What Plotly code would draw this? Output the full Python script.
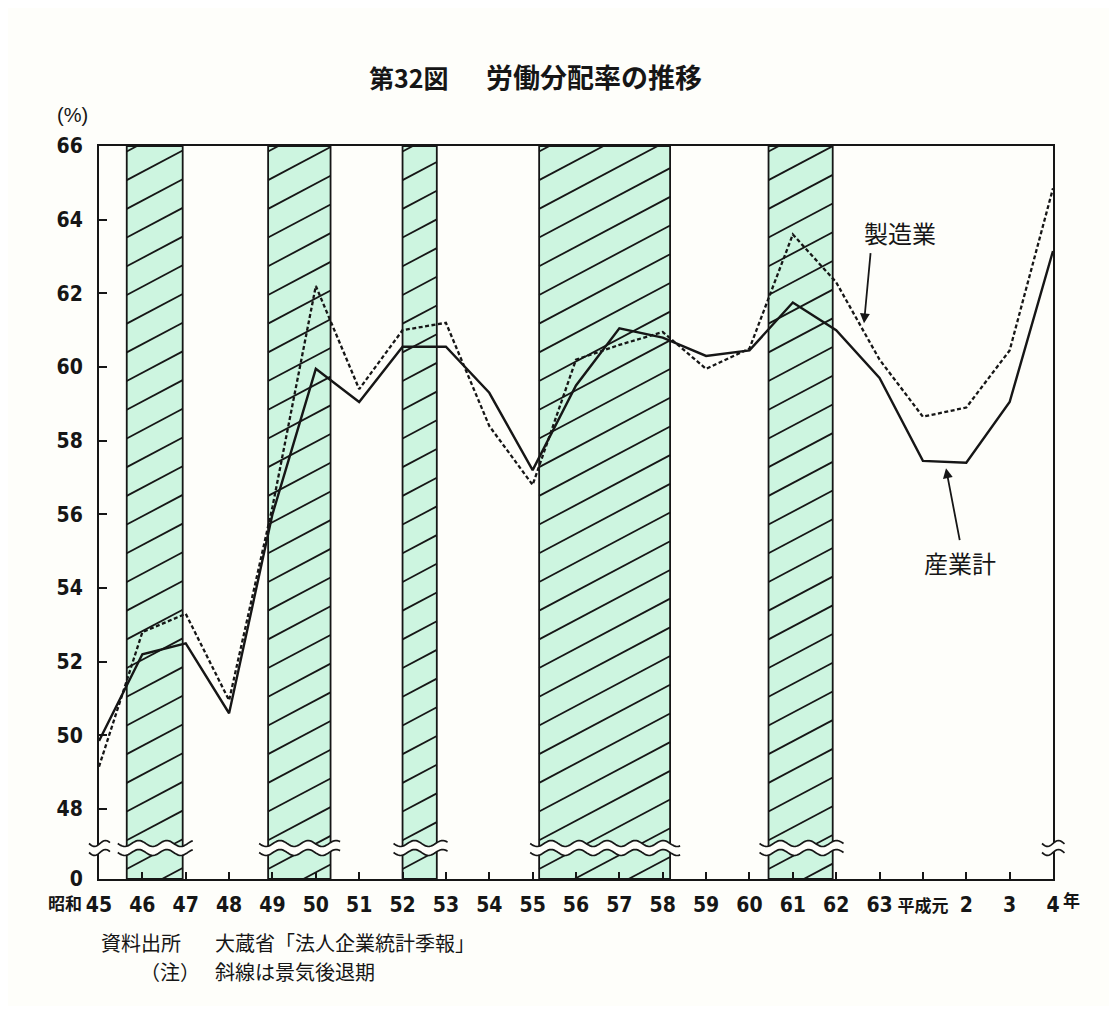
import numpy as np
import plotly.graph_objects as go

# ---------------- data ----------------
years = list(range(45, 68))  # 昭和45 ... 昭和63, 平成元(=64) ... 平成4(=67)
year_labels = ["45", "46", "47", "48", "49", "50", "51", "52", "53", "54", "55",
               "56", "57", "58", "59", "60", "61", "62", "63",
               "<span style='font-size:17px'>平成元</span>", "2", "3", "4"]
industry_total = [49.85, 52.2, 52.5, 50.6, 56.0, 59.95, 59.05, 60.55, 60.55, 59.3, 57.2,
                  59.5, 61.05, 60.8, 60.3, 60.45, 61.75, 61.0, 59.7, 57.45, 57.4, 59.05, 63.15]
manufacturing = [49.15, 52.8, 53.3, 50.95, 56.2, 62.2, 59.4, 61.0, 61.2, 58.4, 56.8,
                 60.2, 60.6, 60.95, 59.95, 60.5, 63.6, 62.3, 60.2, 58.65, 58.9, 60.45, 64.85]
recession_start = [45.64, 48.90, 52.00, 55.15, 60.44]
recession_end = [46.93, 50.34, 52.79, 58.17, 61.92]
y_tick_pos = [46.1, 48, 50, 52, 54, 56, 58, 60, 62, 64, 66]
y_tick_labels = ["0", "48", "50", "52", "54", "56", "58", "60", "62", "64", "66"]

# ---------------- geometry ----------------
OFF = 8                      # browser body margin
FIG_W, FIG_H = 1117 - 2 * OFF, 1014 - 2 * OFF
L, R, T, B = 99, 1053, 146, 879  # plot area in page pixels
X_MIN, X_MAX = 45, 67
Y_MIN, Y_MAX = 46.1, 66
XPX = (R - L) / (X_MAX - X_MIN)
YPX = (B - T) / (Y_MAX - Y_MIN)

BG = "#fefefa"
MINT = "#cdf5e0"
INK = "#161616"


def pxp(x):  # page pixel -> paper x
    return (x - L) / (R - L)


def pyp(y):  # page pixel -> paper y
    return (B - y) / (B - T)


def dx2px(x):  # data x -> page pixel (for decoration placement)
    return L + (x - X_MIN) * XPX


def d2(xp, yp):  # page pixel -> data
    return X_MIN + (xp - L) / XPX, Y_MAX - (yp - T) / YPX


fig = go.Figure()

shapes = []
# recession bands
for xs, xe in zip(recession_start, recession_end):
    shapes.append(dict(type="rect", xref="x", yref="paper", x0=xs, x1=xe, y0=0, y1=1,
                       fillcolor=MINT, line=dict(color=INK, width=1.8), layer="below"))

# hatch lines inside bands
slope = 0.53 * XPX / YPX     # data units
gap = 28.7 / YPX
hx, hy = [], []
for xs, xe in zip(recession_start, recession_end):
    w = xe - xs
    kmin = int(np.floor((Y_MIN - slope * w - Y_MIN) / gap)) - 1
    kmax = int(np.ceil((Y_MAX - Y_MIN) / gap)) + 1
    for k in range(kmin, kmax + 1):
        c = Y_MIN + 0.35 * gap + k * gap
        xa = max(xs, xs + (Y_MIN - c) / slope)
        xb = min(xe, xs + (Y_MAX - c) / slope)
        if xb - xa > 1e-6:
            hx += [xa, xb, None]
            hy += [c + slope * (xa - xs), c + slope * (xb - xs), None]
fig.add_trace(go.Scatter(x=hx, y=hy, mode="lines", line=dict(color=INK, width=1.8),
                         hoverinfo="skip", showlegend=False))

# data lines
fig.add_trace(go.Scatter(x=years, y=manufacturing, mode="lines", name="製造業",
                         line=dict(color=INK, width=2.3, dash="4px,2.5px"), showlegend=False))
fig.add_trace(go.Scatter(x=years, y=industry_total, mode="lines", name="産業計",
                         line=dict(color=INK, width=2.4), showlegend=False))


# axis break marks (decoration)
def break_mark(p0, p1, cy=848.0, half=4.5, amp=3.0, period=28.0):
    xs = np.arange(p0, p1 + 0.01, 1.5)
    top = cy - half + amp * np.sin(2 * np.pi * (xs - p0) / period)
    bot = cy + half + amp * np.sin(2 * np.pi * (xs - p0) / period)
    poly = "M " + " L ".join(f"{pxp(a):.5f},{pyp(b):.5f}" for a, b in zip(xs, top))
    poly += " L " + " L ".join(f"{pxp(a):.5f},{pyp(b):.5f}" for a, b in zip(xs[::-1], bot[::-1])) + " Z"
    l1 = "M " + " L ".join(f"{pxp(a):.5f},{pyp(b):.5f}" for a, b in zip(xs, top))
    l2 = "M " + " L ".join(f"{pxp(a):.5f},{pyp(b):.5f}" for a, b in zip(xs, bot))
    out = [dict(type="path", xref="paper", yref="paper", path=poly, fillcolor=BG,
                line=dict(width=0), layer="above")]
    for pth in (l1, l2):
        out.append(dict(type="path", xref="paper", yref="paper", path=pth,
                        fillcolor="rgba(0,0,0,0)", line=dict(color=INK, width=1.7), layer="above"))
    return out


for xs, xe in zip(recession_start, recession_end):
    shapes += break_mark(dx2px(xs) - 9, dx2px(xe) + 11)
shapes += break_mark(L - 10, L + 12, period=22)
shapes += break_mark(R - 11, R + 12, period=22)

CJK = "Noto Sans CJK JP"
annotations = []


def txt(text, x, y, size, xanchor="center", weight="normal", family=CJK, color=INK):
    annotations.append(dict(text=text, x=pxp(x), y=pyp(y), xref="paper", yref="paper",
                            xanchor=xanchor, yanchor="middle", showarrow=False,
                            font=dict(family=family, size=size, color=color, weight=weight)))


txt("第32図", 409, 77, 25, weight="bold")
txt("労働分配率の推移", 594, 77, 27, weight="bold")
txt("(%)", 72, 115, 20, family="Liberation Sans, " + CJK)
txt("昭和", 84, 902, 17, xanchor="right", weight="bold")
txt("年", 1061, 899, 17, xanchor="left", weight="bold")
txt("製造業", 900, 233, 24)
txt("産業計", 960, 562, 24)
txt("資料出所", 99, 942, 20, xanchor="left")
txt("大蔵省「法人企業統計季報」", 213, 942, 20, xanchor="left")
txt("（注）", 138, 971, 20, xanchor="left")
txt("斜線は景気後退期", 213, 971, 20, xanchor="left")

# arrows
for (tx, ty), (hx_, hy_) in [((870.7, 251.7), (864.0, 323.3)), ((960.0, 541.7), (946.0, 468.3))]:
    ax_, ay_ = d2(tx, ty)
    x_, y_ = d2(hx_, hy_)
    annotations.append(dict(text="", x=x_, y=y_, ax=ax_, ay=ay_, xref="x", yref="y",
                            axref="x", ayref="y", showarrow=True, arrowhead=2,
                            arrowsize=1.1, arrowwidth=1.8, arrowcolor=INK, standoff=0))

TICKFONT = dict(family="Liberation Sans Narrow, DejaVu Sans Condensed, " + CJK,
                size=21, color=INK, weight="bold")

fig.update_layout(
    width=FIG_W, height=FIG_H,
    margin=dict(l=L - OFF, r=OFF + FIG_W - R, t=T - OFF, b=OFF + FIG_H - B, pad=0),
    paper_bgcolor=BG, plot_bgcolor=BG,
    shapes=shapes, annotations=annotations, showlegend=False,
    xaxis=dict(range=[X_MIN, X_MAX], tickmode="array", tickvals=years, ticktext=year_labels,
               ticks="inside", ticklen=7, tickwidth=1.6, tickcolor=INK,
               showline=True, linecolor=INK, linewidth=2, mirror=True,
               showgrid=False, zeroline=False, tickfont=TICKFONT, ticklabelstandoff=6),
    yaxis=dict(range=[Y_MIN, Y_MAX], tickmode="array", tickvals=y_tick_pos, ticktext=y_tick_labels,
               ticks="inside", ticklen=8, tickwidth=1.6, tickcolor=INK,
               showline=True, linecolor=INK, linewidth=2, mirror=True,
               showgrid=False, zeroline=False, tickfont=TICKFONT, ticklabelstandoff=10),
)

fig.write_html("out.html")
